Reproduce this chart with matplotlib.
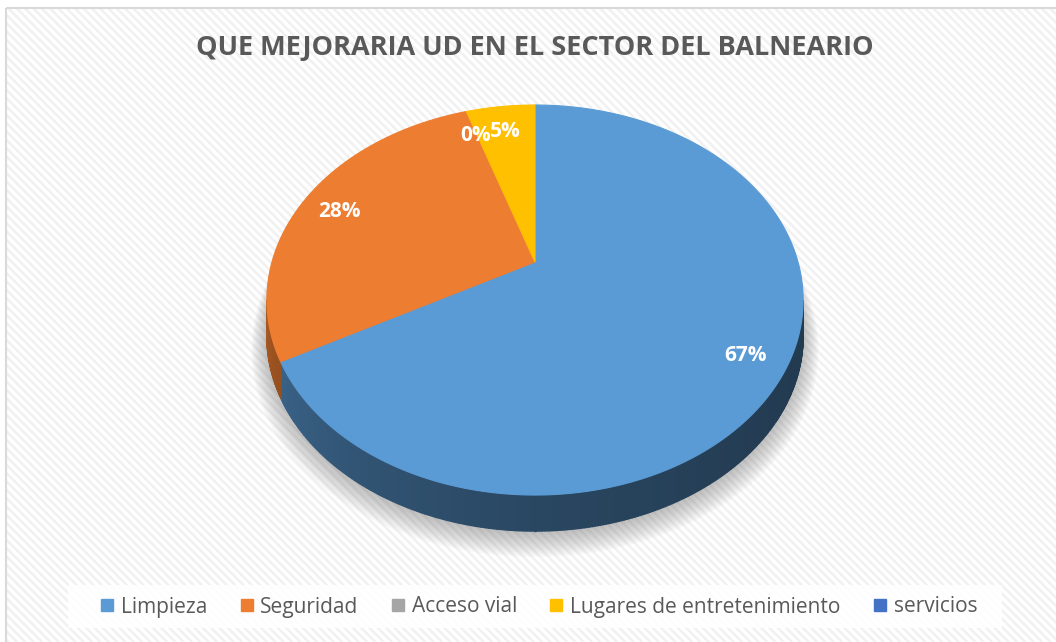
import numpy as np
import matplotlib
matplotlib.use("Agg")
import matplotlib.pyplot as plt
import matplotlib.patches as mpatches
from matplotlib.lines import Line2D
from matplotlib.colors import to_rgb

plt.rcParams['hatch.linewidth'] = 1.8

W, H = 1056, 642

# -------------------------------------------------------------
# Data
# -------------------------------------------------------------
labels = ["Limpieza", "Seguridad", "Acceso vial", "Lugares de entretenimiento", "servicios"]
values = [67, 28, 0, 5, None]
colors = ["#5B9BD5", "#ED7D31", "#A5A5A5", "#FFC000", "#4472C4"]

# -------------------------------------------------------------
# 3D pie geometry (pixel coords, perspective tilt)
# -------------------------------------------------------------
CX, CY = 535, 262
A, B = 263, 187.6
K = 0.195
DEPTH = 36


def proj(theta, r=1.0, dz=0.0):
    # theta in degrees, clockwise from 12 o'clock
    t = np.radians(theta)
    u = r * np.sin(t)
    v = r * np.cos(t)
    den = 1 + K * v
    return CX + A * u / den, CY - B * v / den + dz


fig = plt.figure(figsize=(W / 100, H / 100), dpi=100)
fig.patch.set_facecolor("white")
ax = fig.add_axes([0, 0, 1, 1])
ax.set_xlim(0, W)
ax.set_ylim(H, 0)
ax.axis("off")

# background: hatched chart area + border
ax.add_patch(mpatches.Rectangle((6, 8), W + 20, H + 20, facecolor="white",
                                edgecolor="#f1f1f1", hatch="\\\\\\\\", linewidth=0, zorder=0))
ax.add_patch(mpatches.Rectangle((6, 8), W + 20, H + 20, facecolor="none",
                                edgecolor="#d9d9d9", linewidth=1.5, zorder=1))

# ------------------------------
# slice angles
# ------------------------------
total = sum(v for v in values if v is not None)
bounds = []
start = 0.0
for v in values:
    span = 0.0 if v is None else 360.0 * v / total
    bounds.append((start, start + span))
    start += span

# ------------------------------
# soft shadow
# ------------------------------
full = np.linspace(0, 360, 361)
for i in range(12):
    r = 1.0 + 0.005 * i
    xs, ys = proj(full, r, DEPTH + 2 + i * 0.7)
    ax.fill(xs, ys, color="#707070", alpha=0.045, linewidth=0, zorder=2)

# ------------------------------
# side wall (front arc only)
# ------------------------------
th_r = np.degrees(np.arctan2(np.sqrt(1 - K ** 2), -K))
th_l = 360 - th_r
steps = np.linspace(th_r, th_l, 320)
for a0, a1 in zip(steps[:-1], steps[1:]):
    mid = 0.5 * (a0 + a1)
    idx = 0
    for j, (s, e) in enumerate(bounds):
        if s <= mid < e:
            idx = j
    s = (mid - th_r) / (th_l - th_r)
    f = 0.38 + 0.32 * s ** 2
    c = tuple(min(1, ch * f) for ch in to_rgb(colors[idx]))
    x0, y0 = proj(a0)
    x1, y1 = proj(a1)
    ax.fill([x0, x1, x1, x0], [y0, y1, y1 + DEPTH, y0 + DEPTH],
            color=c, linewidth=1.0, edgecolor=c, zorder=3)

# ------------------------------
# top face
# ------------------------------
for (s, e), v, c in zip(bounds, values, colors):
    if not v:
        continue
    arc = np.linspace(s, e, max(int(e - s) * 2, 4))
    xs, ys = proj(arc)
    xs = np.concatenate([[CX], xs])
    ys = np.concatenate([[CY], ys])
    ax.fill(xs, ys, color=c, linewidth=0.8, edgecolor=c, zorder=4)

# data labels
for (s, e), v in zip(bounds, values):
    if v is None:
        continue
    x, y = proj(0.5 * (s + e), 0.85)
    ax.text(x, y + 5, f"{v}%", color="white", fontsize=15, fontweight="bold",
            family=["Open Sans", "DejaVu Sans"], ha="center", va="center", zorder=6)

# ------------------------------
# title
# ------------------------------
ax.text(535, 48, "QUE MEJORARIA UD EN EL SECTOR DEL BALNEARIO", color="#595959",
        fontsize=19.5, fontweight="bold", family=["Open Sans", "DejaVu Sans"],
        ha="center", va="center", zorder=6)

# ------------------------------
# legend
# ------------------------------
ax.add_patch(mpatches.Rectangle((68, 585), 934, 43, facecolor="white",
                                edgecolor="none", alpha=0.9, zorder=5))
handles = [Line2D([0], [0], marker="s", linestyle="", markerfacecolor=c,
                  markeredgecolor=c, markersize=8, label=l)
           for l, c in zip(labels, colors)]
ax.legend(handles=handles, loc="center", bbox_to_anchor=(539 / W, 1 - 607 / H),
          ncol=5, frameon=False, handlelength=0.6, handletextpad=0.35,
          columnspacing=1.6, prop={"family": ["Open Sans", "DejaVu Sans"], "size": 15},
          labelcolor="#595959")

fig.savefig("out.png", dpi=100)
